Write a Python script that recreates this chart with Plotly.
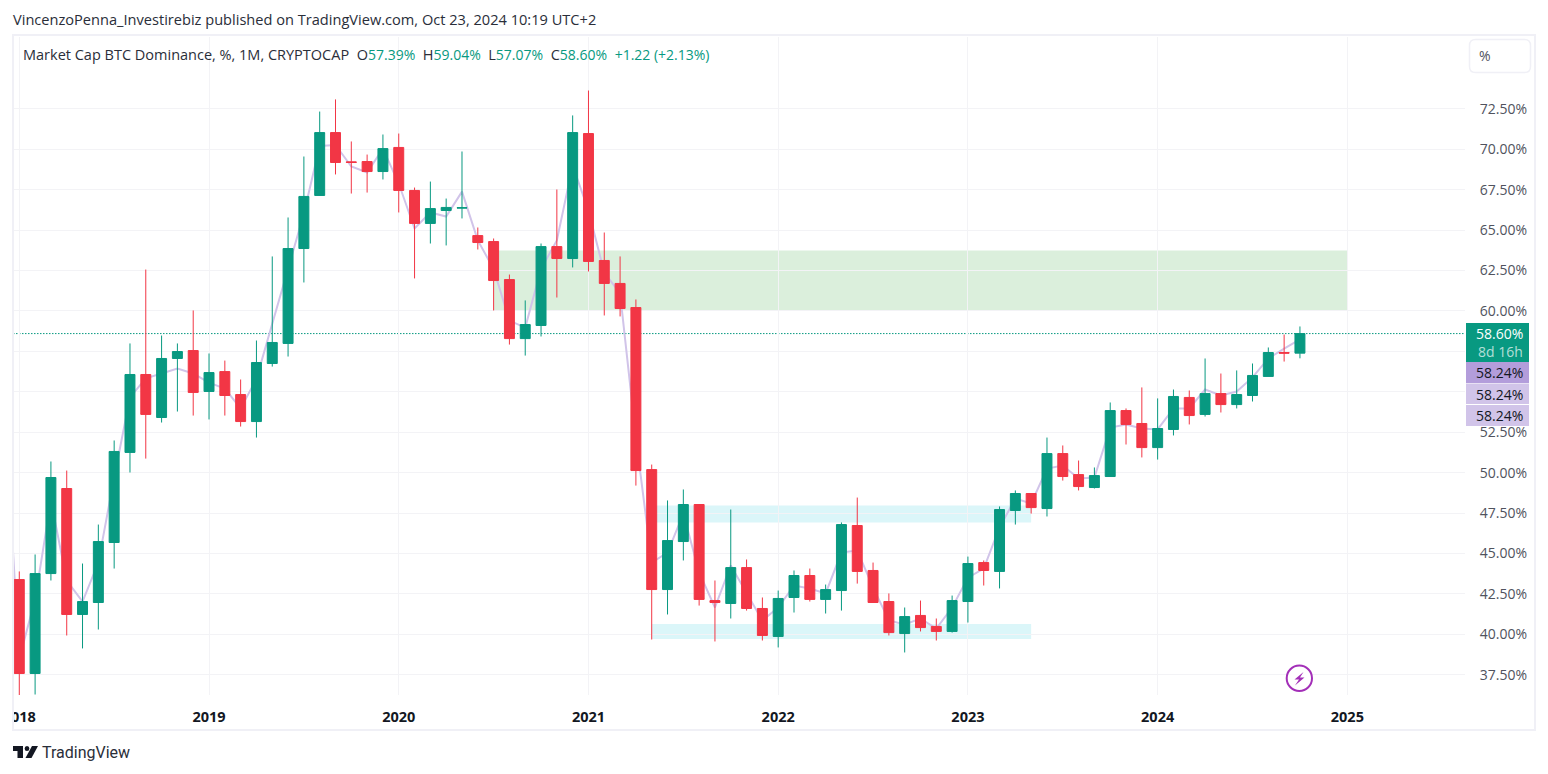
import plotly.graph_objects as go

W, H = 1548, 774

opens = [43.39,37.58,43.76,49.02,41.23,41.97,45.68,51.25,56.07,53.41,57.06,57.55,55.02,56.25,54.83,53.16,56.75,57.99,63.86,67.14,
         71.03,69.22,69.24,68.62,70.11,67.45,65.41,66.21,66.36,64.66,64.29,61.94,58.29,59.10,63.98,63.24,70.97,63.12,61.70,60.21,
         50.19,42.77,45.74,48.03,42.09,41.91,44.13,41.60,39.87,42.28,43.64,42.16,42.71,46.73,43.95,42.03,40.05,41.17,40.49,40.18,
         42.03,44.44,43.89,47.66,48.71,47.78,51.18,49.88,49.08,49.76,53.84,53.04,51.55,52.67,54.65,53.60,54.89,54.21,54.77,55.95,
         57.43,57.39]
highs = [43.89,44.94,50.69,50.13,44.38,46.79,51.99,57.99,62.56,58.48,57.99,60.03,57.37,56.93,55.76,58.17,63.37,65.78,69.55,72.33,
         73.08,70.48,69.67,70.91,70.97,67.63,68.00,66.95,69.86,65.16,64.48,62.25,60.65,64.17,67.51,72.09,73.63,64.85,63.37,60.71,
         50.50,48.28,48.96,48.03,43.33,47.72,44.63,42.28,42.71,43.95,44.07,43.08,46.92,48.46,44.44,42.53,41.66,42.09,40.98,42.40,
         44.81,44.57,47.91,48.90,48.71,52.17,51.68,50.75,50.32,54.34,53.97,55.27,54.59,55.14,55.08,57.06,56.13,56.32,56.75,57.74,
         58.54,59.04]
lows = [36.22,36.28,43.33,39.93,39.13,40.30,44.07,50.01,50.87,53.10,53.78,53.53,53.29,53.53,52.85,52.17,56.56,57.18,61.76,67.14,
        68.44,67.26,67.32,68.13,66.09,62.01,64.17,64.05,65.72,63.80,60.03,57.92,57.24,58.42,60.83,62.69,62.44,59.72,59.66,49.20,
        39.68,41.23,44.57,41.78,39.56,40.98,41.47,39.62,39.19,41.35,42.03,41.29,41.47,43.14,41.97,39.93,38.88,40.18,39.62,40.11,
        40.73,43.02,42.84,46.79,47.47,47.29,49.51,48.90,49.02,49.76,51.74,50.94,50.81,52.30,52.98,53.47,53.72,53.97,54.40,55.95,
        56.87,57.07]
closes = [37.58,43.76,49.70,41.23,42.03,45.74,51.31,56.07,53.60,57.06,57.49,54.96,56.19,54.77,53.16,56.81,58.05,63.86,67.08,71.03,
          69.18,69.18,68.62,70.04,67.45,65.41,66.33,66.40,66.38,64.23,61.88,58.29,59.16,63.98,63.24,71.03,63.06,61.70,60.15,50.13,
          42.77,45.80,48.03,42.16,41.97,44.13,41.60,39.93,42.22,43.64,42.16,42.77,46.79,43.89,41.97,40.11,41.10,40.42,40.18,42.09,
          44.38,43.95,47.72,48.71,47.84,51.18,49.76,49.14,49.82,53.84,52.98,51.55,52.73,54.71,53.53,54.89,54.21,54.83,56.01,57.43,
          57.39,58.60]
# lavender line, starts one month before the first candle
line_values = [55.2,38.5,42.15,48.28,43.33,42.03,44.44,49.70,54.65,55.83,56.13,56.44,56.13,55.57,55.20,53.97,55.80,59.20,62.50,66.02,70.20,
               70.26,68.93,68.56,70.04,67.88,65.10,66.09,65.84,67.38,64.36,62.60,59.40,58.97,62.60,64.36,68.99,66.21,62.37,61.08,52.17,
               44.44,45.06,47.47,43.83,41.66,44.26,42.59,40.86,41.66,43.02,42.84,42.53,45.06,45.18,42.90,40.86,40.61,40.98,40.36,41.66,
               43.51,44.07,46.61,48.40,48.09,50.25,50.44,49.64,49.70,52.79,52.98,52.73,52.67,53.97,53.97,55.14,54.77,55.02,55.89,57.06,
               57.67,58.24]
month_index = list(range(len(closes)))
line_index = list(range(-1, len(closes)))

year_ticks = [0, 12, 24, 36, 48, 60, 72, 84]
year_labels = ["2018", "2019", "2020", "2021", "2022", "2023", "2024", "2025"]
price_ticks = [37.5, 40, 42.5, 45, 47.5, 50, 52.5, 55, 57.5, 60, 62.5, 65, 67.5, 70, 72.5]
# 55.00 and 57.50 sit behind the price labels in the reference, only their grid lines are seen
price_labels = ["37.50%","40.00%","42.50%","45.00%","47.50%","50.00%","52.50%","","","60.00%","62.50%","65.00%","67.50%","70.00%","72.50%"]

green_zone = (30, 84, 60.03, 63.74)
cyan_zone_top = (40, 64, 46.92, 47.97)
cyan_zone_low = (40, 64, 39.71, 40.64)

GREEN, RED = "#089981", "#F23645"
FONT = "Open Sans"
X_RANGE = [-0.398, 91.44]
Y_RANGE = [36.25, 76.94]

def px(x): return x / W
def py(y): return 1 - y / H
def path(points):
    return "M " + " L ".join(f"{px(a):.5f},{py(b):.5f}" for a, b in points) + " Z"

fig = go.Figure()
fig.add_trace(go.Scatter(x=line_index, y=line_values, mode="lines",
                         line=dict(color="#D1C4E9", width=2), hoverinfo="skip", showlegend=False))
# candles live on overlaid axes so that they paint above the line
fig.add_trace(go.Candlestick(x=month_index, open=opens, high=highs, low=lows, close=closes,
                             xaxis="x2", yaxis="y2",
                             increasing=dict(line=dict(color=GREEN, width=1), fillcolor=GREEN),
                             decreasing=dict(line=dict(color=RED, width=1), fillcolor=RED),
                             whiskerwidth=0, showlegend=False, hoverinfo="skip"))

shapes = []
for z, col in ((green_zone, "rgba(76,175,80,0.2)"), (cyan_zone_top, "rgba(0,188,212,0.14)"),
               (cyan_zone_low, "rgba(0,188,212,0.14)")):
    shapes.append(dict(type="rect", xref="x", yref="y", x0=z[0], x1=z[1], y0=z[2], y1=z[3],
                       fillcolor=col, line_width=0, layer="below"))
shapes.append(dict(type="line", xref="x domain", yref="y", x0=0, x1=1, y0=closes[-1], y1=closes[-1],
                   line=dict(color=GREEN, width=1, dash="1.5px,1.5px"), layer="below"))
# mask for clipped 2018 label and outer frame
shapes.append(dict(type="rect", xref="paper", yref="paper", x0=0, x1=px(13), y0=py(732), y1=py(697),
                   fillcolor="white", line_width=0))
shapes.append(dict(type="rect", xref="paper", yref="paper", x0=px(13), x1=px(1535), y0=py(730), y1=py(35),
                   line=dict(color="#F0F0F6", width=2), fillcolor="rgba(0,0,0,0)"))
# price labels
for y0, y1, col in ((323, 362, GREEN), (362, 383, "#B39DDB"), (383.5, 404, "#D1C4E9"), (405, 426, "#D1C4E9")):
    shapes.append(dict(type="rect", xref="paper", yref="paper", x0=px(1466), x1=px(1529), y0=py(y1), y1=py(y0),
                       fillcolor=col, line_width=0))
# % button
r = 6
x0b, x1b, y0b, y1b = 1469.5, 1530.5, 39.5, 72.5
btn = (f"M {px(x0b+r)},{py(y0b)} L {px(x1b-r)},{py(y0b)} Q {px(x1b)},{py(y0b)} {px(x1b)},{py(y0b+r)} "
       f"L {px(x1b)},{py(y1b-r)} Q {px(x1b)},{py(y1b)} {px(x1b-r)},{py(y1b)} L {px(x0b+r)},{py(y1b)} "
       f"Q {px(x0b)},{py(y1b)} {px(x0b)},{py(y1b-r)} L {px(x0b)},{py(y0b+r)} Q {px(x0b)},{py(y0b)} {px(x0b+r)},{py(y0b)} Z")
shapes.append(dict(type="path", xref="paper", yref="paper", path=btn, line=dict(color="#F0F0F6", width=1.5),
                   fillcolor="white"))
# lightning badge
shapes.append(dict(type="circle", xref="paper", yref="paper", x0=px(1286.7), x1=px(1312), y0=py(691), y1=py(665.6),
                   line=dict(color="#A32FB8", width=2), fillcolor="white"))
shapes.append(dict(type="path", xref="paper", yref="paper", fillcolor="#A32FB8", line_width=0,
                   path=path([(1303.5, 672), (1294.5, 679.5), (1299, 679.5), (1295, 685.5), (1304.5, 677.5), (1300, 677.5)])))
# TradingView logo
shapes.append(dict(type="path", xref="paper", yref="paper", fillcolor="#131722", line_width=0,
                   path=path([(13, 746), (23, 746), (23, 758), (17.5, 758), (17.5, 751), (13, 751)])))
shapes.append(dict(type="circle", xref="paper", yref="paper", x0=px(24.6), x1=px(29.4), y0=py(751), y1=py(746),
                   fillcolor="#131722", line_width=0))
shapes.append(dict(type="path", xref="paper", yref="paper", fillcolor="#131722", line_width=0,
                   path=path([(32, 746), (38, 746), (31.5, 758), (25.5, 758)])))

def txt(x, y, text, size=14, color="#2A2E39", anchor="left", family=FONT):
    return dict(xref="paper", yref="paper", x=px(x), y=py(y), text=text, showarrow=False, xanchor=anchor,
                yanchor="middle", align="left", xshift=-2 if anchor == "left" else 0,
                font=dict(family=family, size=size, color=color))

def g(s): return f'<span style="color:{GREEN};font-size:14px">{s}</span>'
legend = ("Market Cap BTC Dominance, %, 1M, CRYPTOCAP &nbsp;O" + g("57.39%") + " &nbsp;H" + g("59.04%") +
          " &nbsp;L" + g("57.07%") + " &nbsp;C" + g("58.60%") + " &nbsp;" + g("+1.22 (+2.13%)"))
annotations = [
    txt(13, 19, "VincenzoPenna_Investirebiz published on TradingView.com, Oct 23, 2024 10:19 UTC+2", size=14.6),
    txt(23, 54.5, legend, size=14.5),
    txt(1485, 56, "%", color="#50535E", anchor="center"),
    txt(1525, 333.5, "58.60%", color="white", anchor="right"),
    txt(1525, 351.5, "8d 16h", color="rgba(255,255,255,0.7)", anchor="right"),
    txt(1525, 372.5, "58.24%", color="#131722", anchor="right"),
    txt(1525, 394, "58.24%", color="#131722", anchor="right"),
    txt(1525, 415.5, "58.24%", color="#131722", anchor="right"),
    txt(42, 752.5, "TradingView", size=16, color="#2A2E39", family="Roboto"),
]

fig.update_layout(
    width=W, height=H, margin=dict(l=0, r=0, t=0, b=0, autoexpand=False), paper_bgcolor="white", plot_bgcolor="white",
    boxgap=0.37, boxgroupgap=0, showlegend=False, hovermode=False, shapes=shapes, annotations=annotations,
    xaxis=dict(domain=[px(13), px(1465)], range=X_RANGE, tickmode="array", tickvals=year_ticks,
               ticktext=year_labels, rangeslider=dict(visible=False), showgrid=True, gridcolor="#F3F3F6", gridwidth=1,
               zeroline=False, showline=False, ticks="outside", ticklen=9, tickcolor="rgba(0,0,0,0)",
               tickfont=dict(family=FONT, size=14.5, color="#131722", weight=700)),
    yaxis=dict(domain=[py(695), py(37)], range=Y_RANGE, side="right", tickmode="array", tickvals=price_ticks,
               ticktext=price_labels, showgrid=True, gridcolor="#F3F3F6", gridwidth=1, zeroline=False, showline=False,
               ticks="outside", ticklen=11, tickcolor="rgba(0,0,0,0)",
               tickfont=dict(family=FONT, size=14, color="#50535E")),
    xaxis2=dict(overlaying="x", anchor="y", domain=[px(13), px(1465)], range=X_RANGE, visible=False,
                rangeslider=dict(visible=False)),
    yaxis2=dict(overlaying="y", anchor="x", side="right", domain=[py(695), py(37)], range=Y_RANGE, visible=False),
)

fig.write_html("out.html", config=dict(displayModeBar=False),
               post_script="document.body.style.margin='0';document.body.style.overflow='hidden';")
